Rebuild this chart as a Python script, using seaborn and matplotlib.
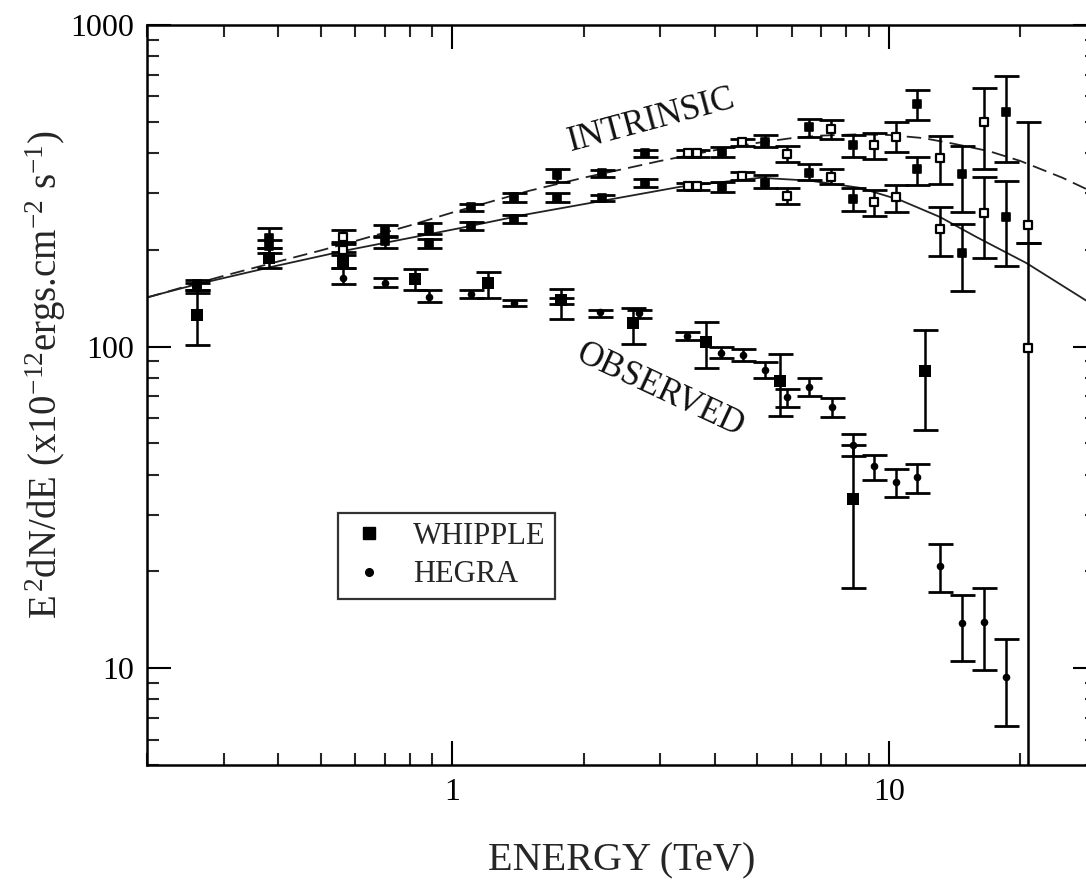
import numpy as np
import pandas as pd
import matplotlib
matplotlib.use("Agg")
import matplotlib.pyplot as plt
from matplotlib import ticker
from matplotlib.lines import Line2D
import seaborn as sns

# ---------------- data ----------------
# Observed Whipple spectrum (TeV, E^2 dN/dE in 1e-12 erg cm^-2 s^-1)
whipple_energy = [0.260, 0.380, 0.561, 0.824, 1.211, 1.779, 2.60, 3.82, 5.64, 8.28, 12.11]
whipple_flux = [125, 188, 183, 162, 158, 140, 118, 103, 78, 33.5, 83.8]
whipple_lo = [101, 175, 176, 150, 142, 122, 102, 86, 61, 17.8, 55]
whipple_hi = [150, 202, 197, 174, 170, 151, 132, 119, 95, 49.4, 112.6]

# Observed HEGRA spectrum
hegra_energy = [0.561, 0.700, 0.883, 1.107, 1.389, 1.779, 2.185, 2.683, 3.45, 4.13,
                4.64, 5.21, 5.85, 6.57, 7.42, 8.28, 9.26, 10.4, 11.6, 13.1,
                14.72, 16.52, 18.55]
hegra_flux = [164, 158, 143, 146, 137, 139, 128, 127, 108, 95.8,
              94, 84.7, 69.8, 75, 65, 49.4, 42.5, 37.8, 39.2, 20.8,
              13.8, 13.9, 9.4]
hegra_lo = [156, 153, 138, 142, 134, 136, 124, 123, 105, 92,
            90.4, 80, 65, 70, 60.5, 45.6, 38.4, 34.0, 35.0, 17.2,
            10.5, 9.9, 6.6]
hegra_hi = [176, 164, 150, 150, 140, 142, 130, 130, 111, 100,
            98.6, 89.8, 74, 80, 69.3, 53.5, 46, 41.6, 43.1, 24.4,
            16.9, 17.8, 12.3]

# Absorption-corrected (intrinsic) points for the two background models
intr_energy = [0.260, 0.380, 0.561, 0.700, 0.883, 1.107, 1.389, 1.742, 2.208, 2.77,
               3.47, 3.64, 4.16, 4.62, 5.21, 5.85, 6.57, 7.38, 8.28, 9.26,
               10.39, 11.6, 13.1, 14.72, 16.52, 18.55, 20.8]
intr_filled = [True, True, False, True, True, True, True, True, True, True,
               False, False, True, False, True, False, True, False, True, False,
               False, True, False, True, False, True, False]
# model A (dashed curve)
intrA_flux = [157, 217, 219, 229, 232, 272, 292, 342, 347, 400,
              400, 400, 404, 434, 434, 398, 483, 476, 425, 425,
              450, 570, 387, 345, 498, 535, 239]
intrA_lo = [150, 202, 211, 219, 224, 264, 282, 325, 337, 390,
            390, 390, 390, 421, 416, 374, 450, 443, 390, 384,
            404, 505, 320, 262, 357, 374, 210]
intrA_hi = [161, 233, 230, 239, 242, 278, 301, 357, 354, 409,
            409, 409, 416, 443, 455, 419, 511, 505, 455, 463,
            498, 630, 453, 421, 635, 692, 500]
# model B (solid curve)
intrB_flux = [153, 205, 200, 213, 210, 237, 249, 290, 290, 323,
              316, 316, 314, 340, 323, 294, 347, 337, 288, 282,
              292, 357, 232, 195, 260, 253, 99]
intrB_lo = [147, 195, 192, 202, 202, 230, 242, 282, 284, 314,
            307, 307, 303, 330, 311, 278, 330, 320, 264, 255,
            262, 318, 191, 149, 188, 178, 1]
intrB_hi = [158, 215, 208, 221, 216, 244, 257, 301, 296, 332,
            323, 323, 326, 349, 342, 311, 370, 357, 311, 307,
            318, 390, 272, 240, 337, 328, 210]

# Fitted intrinsic spectra
solid_energy = [0.2, 0.26, 0.392, 0.576, 1.045, 1.456, 2.267, 3.33, 5.08, 6.61,
                8.6, 10.6, 13.1, 15.9, 20.7, 28.3, 30]
solid_flux = [142.3, 156.2, 177.8, 199.5, 233.7, 256.6, 285.8, 314, 335, 328,
              311.6, 285.8, 253, 219, 181.7, 139.2, 132]
dashed_energy = [0.2, 0.25, 0.3, 0.4, 0.5, 0.6, 0.8, 1.0, 1.5, 2.0, 3.0, 4.0,
                 5.0, 6.0, 7.0, 8.5, 10, 12, 14, 17, 20, 25, 30]
dashed_flux = [142, 155, 166, 184, 199, 213, 238, 261, 305, 335, 378, 408,
               430, 445, 453, 457, 455, 445, 428, 405, 378, 335, 298]

# ---------------- style ----------------
sns.set_style("ticks")
plt.rcParams["font.family"] = ["Liberation Serif", "DejaVu Serif"]
plt.rcParams["mathtext.fontset"] = "custom"
plt.rcParams["mathtext.rm"] = "Liberation Serif"
plt.rcParams["mathtext.it"] = "Liberation Serif:italic"
plt.rcParams["mathtext.bf"] = "Liberation Serif:bold"

W, H = 1086, 889
fig = plt.figure(figsize=(W / 100, H / 100), dpi=100)
ax = fig.add_axes([147 / W, 1 - 765 / H, 950 / W, 740 / H])
ax.set_xscale("log")
ax.set_yscale("log")
ax.set_xlim(0.2, 30)
ax.set_ylim(5, 1000)

ink = "black"
curve_col = "#222222"

# fitted curves
sns.lineplot(x=solid_energy, y=solid_flux, ax=ax, color=curve_col, lw=1.3,
             sort=False, estimator=None, zorder=2)
sns.lineplot(x=dashed_energy, y=dashed_flux, ax=ax, color=curve_col, lw=1.3,
             linestyle=(0, (8, 4)), sort=False, estimator=None, zorder=2)

err_kw = dict(fmt="none", ecolor=ink, elinewidth=1.8, capsize=9, capthick=2.0, zorder=3)


def bars(e, f, lo, hi):
    f = np.asarray(f, float)
    yerr = [f - np.asarray(lo, float), np.asarray(hi, float) - f]
    ax.errorbar(e, f, yerr=yerr, **err_kw)


bars(intr_energy, intrA_flux, intrA_lo, intrA_hi)
bars(intr_energy, intrB_flux, intrB_lo, intrB_hi)
bars(whipple_energy, whipple_flux, whipple_lo, whipple_hi)
bars(hegra_energy, hegra_flux, hegra_lo, hegra_hi)

# intrinsic points: small squares, filled or open
intr = pd.DataFrame({"E": intr_energy, "filled": intr_filled,
                     "A": intrA_flux, "B": intrB_flux})
for col in ["A", "B"]:
    fl = intr[intr["filled"]]
    op = intr[~intr["filled"]]
    sns.scatterplot(data=fl, x="E", y=col, ax=ax, marker="s", s=26,
                    color=ink, edgecolor=ink, linewidth=1.2, zorder=5)
    sns.scatterplot(data=op, x="E", y=col, ax=ax, marker="s", s=26,
                    color="white", edgecolor=ink, linewidth=1.6, zorder=5)

# observed points
sns.scatterplot(x=whipple_energy, y=whipple_flux, ax=ax, marker="s", s=80,
                color=ink, edgecolor=ink, linewidth=0, zorder=6)
sns.scatterplot(x=hegra_energy, y=hegra_flux, ax=ax, marker="o", s=30,
                color=ink, edgecolor=ink, linewidth=0, zorder=6)

# annotations
ax.text(2.87, 505, "INTRINSIC", rotation=15, ha="center", va="center",
        rotation_mode="anchor", fontsize=25, color="#111111")
ax.text(3.0, 73, "OBSERVED", rotation=-25, ha="center", va="center",
        rotation_mode="anchor", fontsize=25, color="#111111")

# legend
handles = [Line2D([], [], marker="s", color=ink, ls="none", markersize=9),
           Line2D([], [], marker="o", color=ink, ls="none", markersize=5.5)]
leg = ax.legend(handles, ["WHIPPLE", "HEGRA"], loc="upper left",
                bbox_to_anchor=(338 / W, 1 - 513 / H), bbox_transform=fig.transFigure,
                borderaxespad=0, fontsize=22, frameon=True, fancybox=False,
                borderpad=0.3, handlelength=1.4, handletextpad=0.75, labelspacing=0.3)
leg.get_frame().set_edgecolor(ink)
leg.get_frame().set_linewidth(1.6)

# axes, ticks, labels
ax.set_xticks([1, 10], ["1", "10"])
ax.set_yticks([10, 100, 1000], ["10", "100", "1000"])
for axis in (ax.xaxis, ax.yaxis):
    axis.set_minor_locator(ticker.LogLocator(base=10, subs=np.arange(2, 10), numticks=30))
    axis.set_minor_formatter(ticker.NullFormatter())
ax.tick_params(which="major", direction="in", length=17, width=1.5,
               top=True, right=True, labelsize=23, pad=9, colors=ink)
ax.tick_params(which="minor", direction="in", length=8.5, width=1.5,
               top=True, right=True)
for sp in ax.spines.values():
    sp.set_linewidth(1.8)
    sp.set_color(ink)

ax.set_xlabel("ENERGY (TeV)", fontsize=29, labelpad=26)
ax.set_ylabel(r"E$^{\,2}$dN/dE (x10$^{-12}$ergs.cm$^{-2}$ s$^{-1}$)", fontsize=28)
ax.yaxis.set_label_coords(-0.083, 0.527)

fig.savefig("out.png", dpi=100)
